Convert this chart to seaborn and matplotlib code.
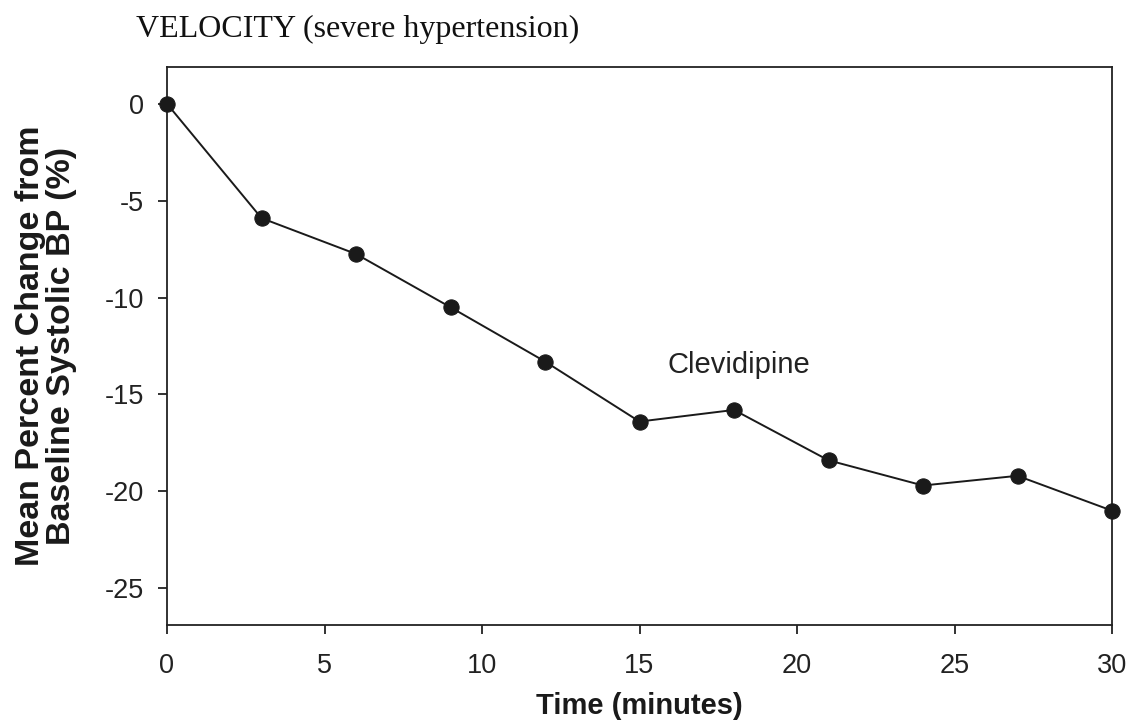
import matplotlib
matplotlib.use("Agg")
import matplotlib.pyplot as plt
import seaborn as sns
import pandas as pd

# Clevidipine response in the VELOCITY study (severe hypertension)
time_min = [0, 3, 6, 9, 12, 15, 18, 21, 24, 27, 30]
pct_change = [0.0, -5.9, -7.75, -10.5, -13.3, -16.4, -15.8, -18.4, -19.7, -19.2, -21.0]
x_ticks = [0, 5, 10, 15, 20, 25, 30]
y_ticks = [0, -5, -10, -15, -20, -25]

df = pd.DataFrame({"time": time_min, "change": pct_change})

sns.set_style("ticks")
plt.rcParams["font.family"] = ["Liberation Sans", "DejaVu Sans"]

fig = plt.figure(figsize=(11.32, 7.21), dpi=100)
ax = fig.add_axes([167 / 1132, 1 - 625 / 721, (1112 - 167) / 1132, (625 - 67) / 721])

sns.lineplot(data=df, x="time", y="change", ax=ax, color="#1a1a1a", linewidth=1.4,
             marker="o", markersize=11, markeredgecolor="#1a1a1a",
             markerfacecolor="#1a1a1a", clip_on=False, zorder=3)

ax.set_xlim(0, 30)
ax.set_ylim(-26.9, 1.9)
ax.set_xticks(x_ticks)
ax.set_yticks(y_ticks)
ax.set_xticklabels([str(t) for t in x_ticks])
ax.set_yticklabels([str(t) for t in y_ticks])
ax.tick_params(axis="both", direction="out", length=6.5, width=1.3, colors="#222222",
               labelsize=19.5)
ax.tick_params(axis="y", pad=10)
ax.tick_params(axis="x", pad=14)
for side in ["left", "right", "top", "bottom"]:
    ax.spines[side].set_visible(True)
    ax.spines[side].set_linewidth(1.3)
    ax.spines[side].set_color("#222222")

ax.set_xlabel("Time (minutes)", fontsize=21, fontweight="bold", labelpad=9, color="#1a1a1a")
ax.set_ylabel("Mean Percent Change from\nBaseline Systolic BP (%)", fontsize=24.5,
              fontweight="bold", labelpad=20, color="#1a1a1a", linespacing=1.0)

ax.text(18.16, -13.9, "Clevidipine", fontsize=21, ha="center", va="baseline", color="#222222")

fig.text(136 / 1132, 1 - 37 / 721, "VELOCITY (severe hypertension)", fontsize=23,
         family=["Liberation Serif", "DejaVu Serif"], ha="left", va="baseline", color="#111111")

fig.savefig("out.png", dpi=100, facecolor="white")
